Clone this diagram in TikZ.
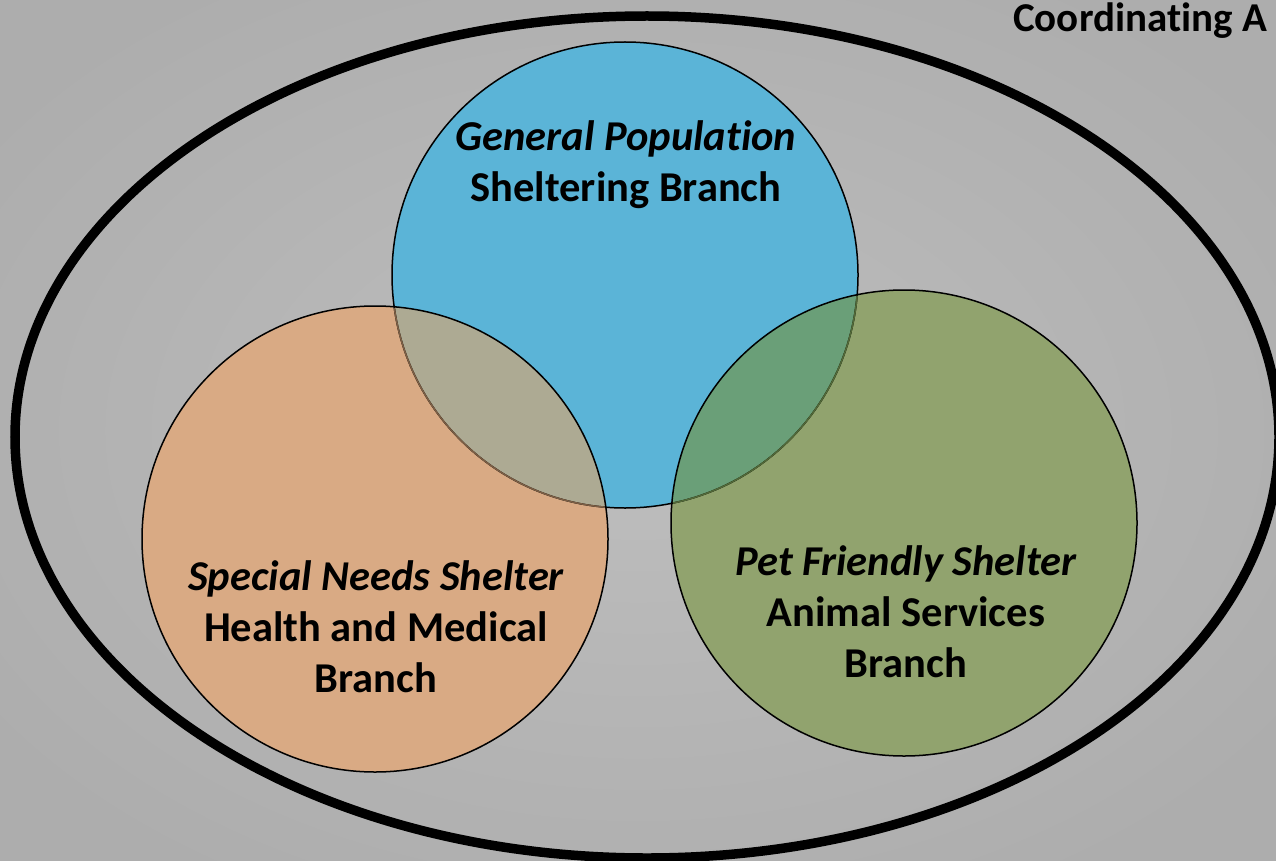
\documentclass[tikz,border=0pt]{standalone}
\usepackage{fontspec}
\setmainfont{Carlito}[Ligatures=NoCommon]
\definecolor{bgin}{HTML}{BEBEBE}
\definecolor{bgout}{HTML}{ADADAD}
\definecolor{cblue}{HTML}{5BB4D7}
\definecolor{corange}{HTML}{D9AA84}
\definecolor{cgreen}{HTML}{91A36E}
\definecolor{cob}{HTML}{ADAA93}
\definecolor{cgb}{HTML}{6A9F78}
\definecolor{bordob}{HTML}{7D5F45}
\definecolor{bordgb}{HTML}{526A38}
\begin{document}
\begin{tikzpicture}[x=1pt,y=-1pt,
  lbl/.style={anchor=base,inner sep=0pt,font=\fontsize{42.5}{50}\selectfont\bfseries},
  ilbl/.style={lbl,font=\fontsize{42.5}{50}\selectfont\bfseries\itshape},
  ring/.style={line width=1.5pt}]
\useasboundingbox (0,0) rectangle (1276,861);
\shade[inner color=bgin,outer color=bgout] (-150,-100) rectangle (1426,961);
% outer ellipse
\draw[line width=9.5pt] (647,437) ellipse [x radius=632pt, y radius=421pt];
% circles
\coordinate (cb) at (625,275);
\coordinate (co) at (375,539);
\coordinate (cg) at (904,523);
\fill[cblue] (cb) circle [radius=233pt];
\fill[corange] (co) circle [radius=233pt];
\fill[cgreen] (cg) circle [radius=233pt];
\begin{scope}
  \clip (cb) circle [radius=233pt];
  \fill[cob] (co) circle [radius=233pt];
  \fill[cgb] (cg) circle [radius=233pt];
\end{scope}
\draw[ring] (cb) circle [radius=233pt];
\begin{scope}
  \clip (co) circle [radius=232pt];
  \draw[ring,bordob] (cb) circle [radius=233pt];
\end{scope}
\begin{scope}
  \clip (cg) circle [radius=232pt];
  \draw[ring,bordgb] (cb) circle [radius=233pt];
\end{scope}
\draw[ring] (co) circle [radius=233pt];
\draw[ring] (cg) circle [radius=233pt];
% labels
\node[ilbl] (gp1) at (626,151) {General Population};
\node[lbl] (gp2) at (626,201) {Sheltering Branch};
\node[ilbl] (sn1) at (376,590) {Special Needs Shelter};
\node[lbl] (sn2) at (376,641) {Health and Medical};
\node[lbl] (sn3) at (376,692) {Branch};
\node[ilbl] (pf1) at (906,575) {Pet Friendly Shelter};
\node[lbl] (pf2) at (906,626) {Animal Services};
\node[lbl] (pf3) at (906,677) {Branch};
\node[lbl,anchor=base west,font=\fontsize{41}{50}\selectfont\bfseries] (coord) at (1013,32) {Coordinating A};
\end{tikzpicture}
\end{document}
